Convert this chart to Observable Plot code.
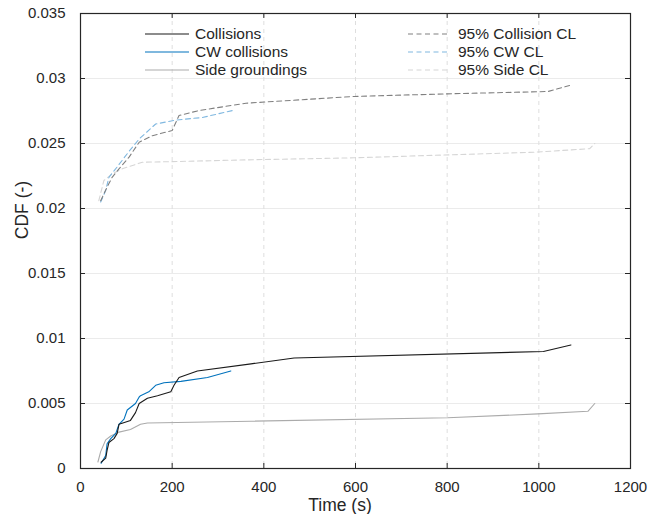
<!DOCTYPE html>
<html>
<head>
<meta charset="utf-8">
<script src="https://cdn.jsdelivr.net/npm/d3@7"></script>
<script src="https://cdn.jsdelivr.net/npm/@observablehq/plot@0.6"></script>
<style>
  html, body { margin: 0; padding: 0; background: #fff; }
  #chart { width: 661px; height: 514px; }
</style>
</head>
<body>
<div id="chart"></div>
<script>
// ---- data ----
const collT = [45, 55, 58, 62, 73, 80, 84, 109, 120, 128, 146, 168, 197, 204, 215, 255, 372, 466, 1010, 1070];
const collV = [0.00048, 0.0008, 0.0014, 0.002, 0.0023, 0.0027, 0.0034, 0.0037, 0.0043, 0.005, 0.0054, 0.0056, 0.0059, 0.0064, 0.007, 0.0075, 0.00805, 0.0085, 0.009, 0.0095];

const cwT = [45, 55, 58, 66, 77, 84, 95, 102, 120, 128, 131, 149, 164, 182, 219, 277, 328];
const cwV = [0.0004, 0.001, 0.0019, 0.0023, 0.0027, 0.0034, 0.0038, 0.0045, 0.005, 0.0055, 0.0056, 0.0059, 0.0064, 0.0066, 0.0067, 0.007, 0.0075];

const sideT = [38, 44, 55, 66, 84, 109, 131, 146, 372, 801, 998, 1107, 1122];
const sideV = [0.0005, 0.0013, 0.0022, 0.0025, 0.0028, 0.003, 0.0034, 0.0035, 0.00364, 0.0039, 0.0042, 0.0044, 0.005];

const collCLT = [44, 58, 69, 84, 106, 128, 157, 200, 215, 259, 361, 597, 801, 1020, 1067];
const collCLV = [0.0206, 0.02164, 0.0224, 0.02305, 0.02395, 0.0251, 0.0256, 0.026, 0.02715, 0.02754, 0.0281, 0.02862, 0.02882, 0.029, 0.02946];

const cwCLT = [44, 55, 62, 80, 106, 128, 164, 208, 266, 332];
const cwCLV = [0.0205, 0.0214, 0.0224, 0.0232, 0.0244, 0.02535, 0.0265, 0.0268, 0.027, 0.02754];

const sideCLT = [40, 51, 69, 91, 135, 193, 361, 597, 991, 1111, 1122];
const sideCLV = [0.0206, 0.02215, 0.02267, 0.02305, 0.02356, 0.0236, 0.02374, 0.0239, 0.02433, 0.0246, 0.025];

const xTicks = [0, 200, 400, 600, 800, 1000, 1200];
const yTicks = [0, 0.005, 0.01, 0.015, 0.02, 0.025, 0.03, 0.035];
const yTickLabels = ["0", "0.005", "0.01", "0.015", "0.02", "0.025", "0.03", "0.035"];

const seriesNames = ["Collisions", "CW collisions", "Side groundings", "95% Collision CL", "95% CW CL", "95% Side CL"];
const seriesColors = ["#1a1a1a", "#0072BD", "#ababab", "#808080", "#80b8e0", "#d6d6d6"];
const seriesDashed = [false, false, false, true, true, true];
const xLabel = "Time (s)";
const yLabel = "CDF (-)";

// ---- build table ----
const rawSeries = [[collT, collV], [cwT, cwV], [sideT, sideV], [collCLT, collCLV], [cwCLT, cwCLV], [sideCLT, sideCLV]];
const rows = [];
rawSeries.forEach(([ts, vs], s) => ts.forEach((t, i) => rows.push({series: seriesNames[s], t, v: vs[i]})));

const W = 661, H = 514;
const mL = 80, mR = 31, mT = 13, mB = 46;
const plotW = W - mL - mR, plotH = H - mT - mB;
const tickLen = 5;
const dash = "5,3.5";

const lineMarks = seriesNames.map((name, s) =>
  Plot.line(rows.filter(r => r.series === name), {
    x: "t", y: "v",
    stroke: seriesColors[s],
    strokeWidth: 1.1,
    strokeDasharray: seriesDashed[s] ? dash : null,
    curve: "linear"
  })
);

const chart = Plot.plot({
  width: W, height: H,
  marginLeft: mL, marginRight: mR, marginTop: mT, marginBottom: mB,
  style: {fontFamily: "'Liberation Sans', Arial, Helvetica, sans-serif", fontSize: "15px", color: "#262626", background: "#fff"},
  x: {domain: [0, 1200]},
  y: {domain: [0, 0.035]},
  marks: [
    Plot.gridY(yTicks, {stroke: "#ebebeb", strokeOpacity: 1}),
    Plot.gridX(xTicks, {stroke: "#dedede", strokeOpacity: 1, strokeDasharray: "4,4"}),
    ...lineMarks.slice(3).reverse(),
    ...lineMarks.slice(0, 3).reverse(),
    Plot.frame({stroke: "#262626", strokeWidth: 1.2}),
    Plot.tickX(xTicks, {x: d => d, stroke: "#262626", insetTop: plotH - tickLen}),
    Plot.tickX(xTicks, {x: d => d, stroke: "#262626", insetBottom: plotH - tickLen}),
    Plot.tickY(yTicks, {y: d => d, stroke: "#262626", insetRight: plotW - tickLen}),
    Plot.tickY(yTicks, {y: d => d, stroke: "#262626", insetLeft: plotW - tickLen}),
    Plot.axisX(xTicks, {tickSize: 0, tickPadding: 13, label: null, fontSize: 15, tickFormat: d => String(d)}),
    Plot.axisY(yTicks, {tickSize: 0, tickPadding: 15, label: null, fontSize: 15, tickFormat: (d, i) => yTickLabels[i]})
  ]
});

document.getElementById("chart").appendChild(chart);

// ---- axis titles and legend ----
const svg = d3.select(chart);
const font = "'Liberation Sans', Arial, Helvetica, sans-serif";
svg.append("text")
  .attr("x", 340).attr("y", 505).attr("dy", "0.35em")
  .attr("text-anchor", "middle").attr("font-family", font).attr("font-size", 17.5)
  .attr("fill", "#262626").text(xLabel);
svg.append("text")
  .attr("transform", "translate(22,210) rotate(-90)").attr("dy", "0.35em")
  .attr("text-anchor", "middle").attr("font-family", font).attr("font-size", 17.5)
  .attr("fill", "#262626").text(yLabel);

const legendCols = [{x1: 145, x2: 189, tx: 195}, {x1: 408, x2: 450, tx: 458}];
const legendRows = [34, 52, 70];
const lg = svg.append("g").attr("text-anchor", "start");
seriesNames.forEach((name, s) => {
  const col = legendCols[Math.floor(s / 3)];
  const yy = legendRows[s % 3];
  lg.append("line").attr("x1", col.x1).attr("x2", col.x2).attr("y1", yy).attr("y2", yy)
    .attr("stroke", seriesColors[s]).attr("stroke-width", 1.1)
    .attr("stroke-dasharray", seriesDashed[s] ? dash : null);
  lg.append("text").attr("x", col.tx).attr("y", yy).attr("dy", "0.35em")
    .attr("text-anchor", "start")
    .attr("font-family", font).attr("font-size", 15.5).attr("fill", "#262626").text(name);
});
</script>
</body>
</html>
